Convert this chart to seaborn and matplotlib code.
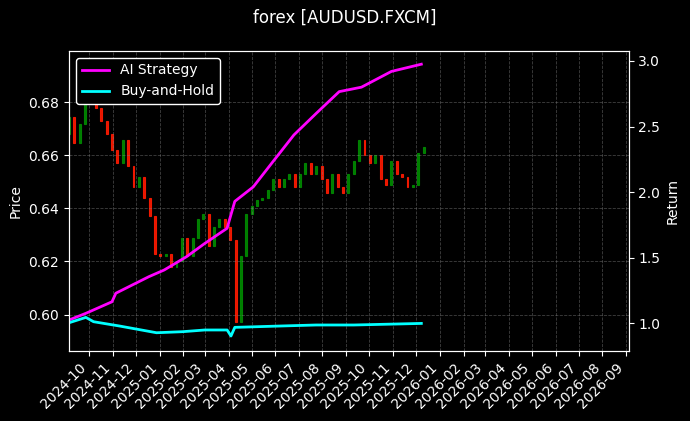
import numpy as np
import pandas as pd
import matplotlib
matplotlib.use("Agg")
import matplotlib.pyplot as plt
import matplotlib.dates as mdates
import seaborn as sns

price_start = "2024-09-05"
price_close = [0.6746, 0.6645, 0.672, 0.685, 0.691, 0.678, 0.673, 0.668, 0.662, 0.657,
               0.666, 0.656, 0.648, 0.652, 0.644, 0.637, 0.623, 0.622, 0.623, 0.618,
               0.620, 0.629, 0.622, 0.629, 0.636, 0.638, 0.626, 0.633, 0.636, 0.633,
               0.628, 0.597, 0.622, 0.638, 0.641, 0.643, 0.644, 0.647, 0.651, 0.648,
               0.651, 0.653, 0.648, 0.653, 0.657, 0.653, 0.656, 0.651, 0.646, 0.653,
               0.648, 0.646, 0.653, 0.658, 0.666, 0.660, 0.657, 0.660, 0.651, 0.649,
               0.658, 0.653, 0.652, 0.648, 0.649, 0.661, 0.663]
price_open0 = 0.668

ret_dates = ["2024-09-05", "2024-09-27", "2024-10-31", "2024-11-05", "2024-12-18", "2025-01-07",
             "2025-02-05", "2025-03-01", "2025-03-30", "2025-04-02", "2025-04-09", "2025-05-03",
             "2025-05-27", "2025-06-25", "2025-07-24", "2025-08-23", "2025-09-21", "2025-10-30",
             "2025-12-08"]
ai_return = [1.026, 1.077, 1.165, 1.23, 1.356, 1.407, 1.508, 1.61, 1.725, 1.788, 1.93, 2.04,
             2.22, 2.436, 2.60, 2.766, 2.80, 2.92, 2.975]
bh_dates = ["2024-09-05", "2024-09-27", "2024-10-07", "2024-11-10", "2024-12-28", "2025-01-31",
            "2025-03-01", "2025-03-30", "2025-04-04", "2025-04-09", "2025-06-06", "2025-07-24",
            "2025-09-11", "2025-12-08"]
bh_return = [1.005, 1.046, 1.013, 0.98, 0.929, 0.937, 0.95, 0.95, 0.904, 0.97, 0.98, 0.988,
             0.988, 1.0]

plt.style.use("dark_background")
fig, ax = plt.subplots(figsize=(6.9, 4.21), dpi=100)
fig.patch.set_facecolor("black")
ax.set_facecolor("black")

dates = pd.date_range(price_start, periods=len(price_close), freq="7D")
opens = [price_open0] + price_close[:-1]
colors = ["#008a00" if c >= o else "#ff1a00" for o, c in zip(opens, price_close)]
ax.bar(dates, np.array(price_close) - np.array(opens), bottom=opens, width=2.5,
       color=colors, edgecolor=colors, linewidth=0.8, alpha=0.9)
ax.set_ylim(0.5862, 0.6994)
ax.set_ylabel("Price")
ax.grid(True, linestyle="--", color="gray", alpha=0.5, linewidth=0.6)

ax2 = ax.twinx()
sns.lineplot(x=pd.to_datetime(ret_dates), y=ai_return, ax=ax2, color="magenta", lw=2, label="AI Strategy")
sns.lineplot(x=pd.to_datetime(bh_dates), y=bh_return, ax=ax2, color="cyan", lw=2, label="Buy-and-Hold")
ax2.set_ylim(0.789, 3.076)
ax2.set_ylabel("Return")
ax2.legend(loc="upper left", facecolor="black", edgecolor="white", framealpha=1)

ax.set_xlim(pd.Timestamp("2024-09-05"), pd.Timestamp("2026-09-04"))
ax.xaxis.set_major_locator(mdates.MonthLocator())
ax.xaxis.set_major_formatter(mdates.DateFormatter("%Y-%m"))
plt.setp(ax.get_xticklabels(), rotation=45, ha="right")

fig.suptitle("forex [AUDUSD.FXCM]")
fig.subplots_adjust(left=0.1, right=0.911, top=0.879, bottom=0.166)
fig.savefig("out.png", dpi=100, facecolor="black")
